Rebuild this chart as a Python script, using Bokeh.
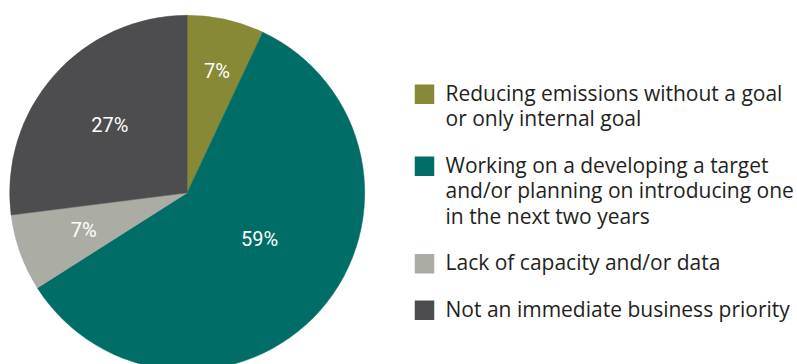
import math
from bokeh.plotting import figure
from bokeh.models import Range1d
from bokeh.core.properties import value
from bokeh.embed import file_html
from bokeh.resources import INLINE

# ---- data ----
categories = [
    "Reducing emissions without a goal\nor only internal goal",
    "Working on a developing a target\nand/or planning on introducing one\nin the next two years",
    "Lack of capacity and/or data",
    "Not an immediate business priority",
]
shares = [7, 59, 7, 27]
pct_labels = ["7%", "59%", "7%", "27%"]
colors = ["#878937", "#006e67", "#abada4", "#4d4d4f"]

# ---- layout (pixels) ----
W, H = 797, 364
def fx(wx):
    return wx
def fy(wy):
    return H - wy

cx, cy, R = fx(186.7), fy(192.3), 177.5
label_r = [125, 86, 110, 103]       # label distance from centre
label_nudge = [1.2, -8.6, 0.0, 0.0]  # degrees

p = figure(width=W, height=H, output_backend="svg", toolbar_location=None,
           x_range=Range1d(0, W), y_range=Range1d(0, H), min_border=0)
p.axis.visible = False
p.grid.visible = False
p.outline_line_color = None
p.background_fill_color = "white"
p.border_fill_color = "white"

total = float(sum(shares))
cum = 0.0
starts, ends, lx, ly = [], [], [], []
for i, s in enumerate(shares):
    a0 = cum / total * 2 * math.pi
    cum += s
    a1 = cum / total * 2 * math.pi
    starts.append(math.pi / 2 - a1)
    ends.append(math.pi / 2 - a0)
    mid = (a0 + a1) / 2 + math.radians(label_nudge[i])
    lx.append(cx + label_r[i] * math.sin(mid))
    ly.append(cy + label_r[i] * math.cos(mid))

p.wedge(x=cx, y=cy, radius=R, start_angle=starts, end_angle=ends,
        fill_color=colors, line_color=colors, line_width=0.5)

p.text(x=lx, y=ly, text=pct_labels, text_color="white",
       text_font=value("Roboto"), text_font_size="20px",
       text_align="center", text_baseline="middle")

# legend
line_h, gap = 25.5, 21
base = 99.0
text_shift = -7.0
sq_x, txt_x = fx(414), fx(445)
tx, ty, tt = [], [], []
for i, cat in enumerate(categories):
    lines = cat.split("\n")
    top = base - 15
    p.rect(x=sq_x + 10, y=fy(top + 9.75), width=19.5, height=19.5,
           fill_color=colors[i], line_color=None)
    for j, ln in enumerate(lines):
        tx.append(txt_x)
        ty.append(fy(base + j * line_h + text_shift))
        tt.append(ln)
    base += len(lines) * line_h + gap

p.text(x=tx, y=ty, text=tt, text_color="#231f20",
       text_font=value("Open Sans"), text_font_size="21px",
       text_align="left", text_baseline="alphabetic")

html = file_html(p, INLINE)
html = html.replace("</head>", "<style>html,body{overflow:hidden;}</style></head>", 1)
open("out.html", "w").write(html)
